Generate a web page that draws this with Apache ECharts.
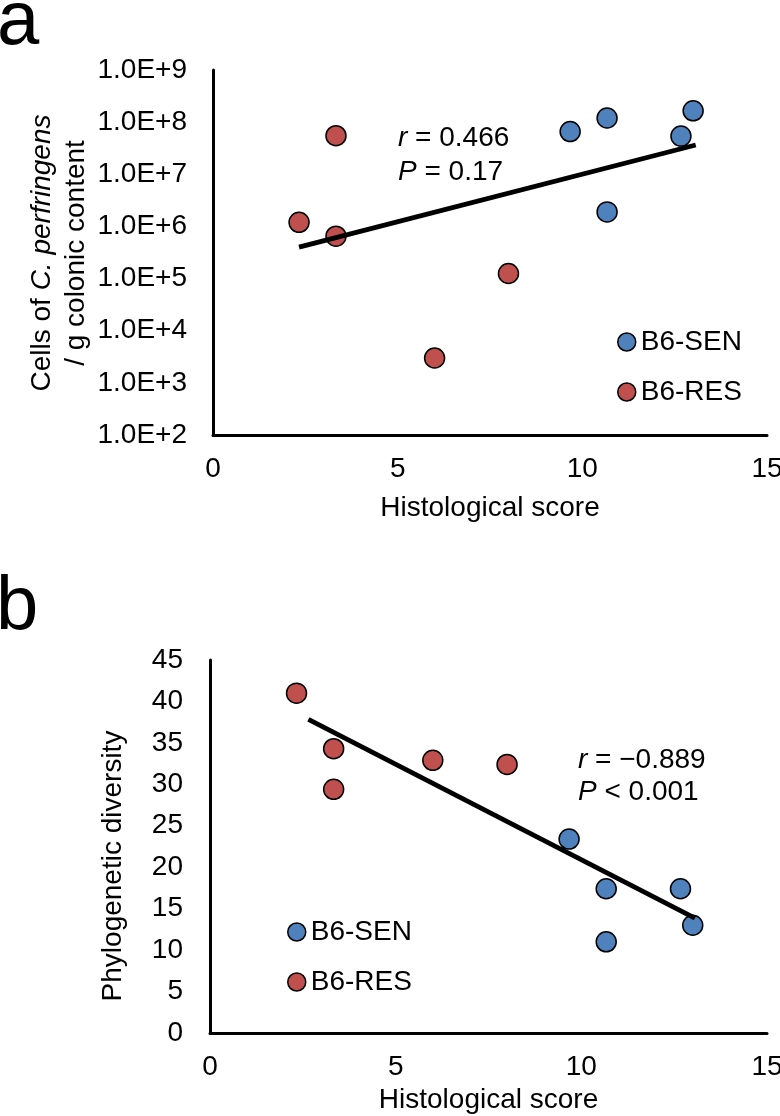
<!DOCTYPE html>
<html><head><meta charset="utf-8">
<script src="https://cdn.jsdelivr.net/npm/echarts@6/dist/echarts.min.js"></script>
<style>html,body{margin:0;padding:0;background:#fff}#c{width:780px;height:1116px}</style>
</head><body><div id="c"></div><script>
// ---- data ----
const seriesNames = ['B6-SEN', 'B6-RES'];
// Panel a: Cells of C. perfringens / g colonic content vs histological score
const senX_a = [9.67, 10.67, 10.67, 12.67, 13.0];
const senY_a = [6.6e7, 1.2e8, 1.9e6, 5.4e7, 1.65e8];
const resX_a = [2.33, 3.33, 3.33, 6.0, 8.0];
const resY_a = [1.2e6, 5.5e7, 6.5e5, 3.0e3, 1.25e5];
const trendX_a = [2.33, 13.07];
const trendY_a = [4.0e5, 3.65e7];
const stat_a = ['r = 0.466', 'P = 0.17'];
// Panel b: Phylogenetic diversity vs histological score
const senX_b = [9.67, 10.67, 10.67, 12.67, 13.0];
const senY_b = [23.4, 17.4, 11.0, 17.4, 13.0];
const resX_b = [2.33, 3.33, 3.33, 6.0, 8.0];
const resY_b = [41.0, 34.3, 29.4, 32.9, 32.4];
const trendX_b = [2.65, 13.06];
const trendY_b = [37.85, 13.85];
const stat_b = ['r = \u22120.889', 'P < 0.001'];
// axes
const xRange = [0, 15, 5];
const yRange_a = [1e2, 1e9];
const yRange_b = [0, 45, 5];
const xTitle = 'Histological score';
const yTitle_b = 'Phylogenetic diversity';

// ---- helpers ----
const FF = '"Liberation Sans", Arial, sans-serif';
const BLUE = '#4F81BD', RED = '#C0504D';
const zip = (xs, ys) => xs.map((x, i) => [x, ys[i]]);
const axisLine = { show: true, onZero: false, lineStyle: { color: '#000', width: 3 } };
const lbl = { color: '#000', fontSize: 28, fontFamily: FF };

function xAxis(gridIndex, gap) {
  return {
    gridIndex, type: 'value', min: xRange[0], max: xRange[1], interval: xRange[2],
    axisLine, axisTick: { show: false }, splitLine: { show: false },
    axisLabel: Object.assign({ margin: 20, showMinLabel: true, showMaxLabel: true, hideOverlap: false }, lbl),
    name: xTitle, nameLocation: 'middle', nameGap: gap,
    nameTextStyle: Object.assign({}, lbl)
  };
}
function scat(name, color, xi, data) {
  return {
    type: 'scatter', name, xAxisIndex: xi, yAxisIndex: xi, data,
    symbol: 'circle', symbolSize: 20, z: 2,
    itemStyle: { color, borderColor: '#000', borderWidth: 1.5, opacity: 1 }
  };
}
function trend(xi, data) {
  return {
    type: 'line', name: 'trend', xAxisIndex: xi, yAxisIndex: xi, data,
    showSymbol: false, symbol: 'none', z: 3, silent: true,
    lineStyle: { color: '#000', width: 4.8, cap: 'butt' }
  };
}
function statText(x, y, s) {
  const parts = s.split(' ');
  return {
    type: 'text', x, y,
    style: {
      text: '{i|' + parts[0] + '} ' + parts.slice(1).join(' '),
      font: '28px ' + FF, fill: '#000', align: 'left', verticalAlign: 'middle',
      rich: { i: { fontStyle: 'italic', fontSize: 28, fontFamily: FF, fill: '#000' } }
    }
  };
}
function legend(left, top) {
  return {
    data: seriesNames, orient: 'vertical', left, top, padding: 0,
    itemWidth: 18, itemHeight: 18, itemGap: 22, icon: 'circle',
    textStyle: Object.assign({}, lbl),
    itemStyle: { borderColor: '#000', borderWidth: 1.5 },
    selectedMode: false
  };
}

const chart = echarts.init(document.getElementById('c'), null, { renderer: 'canvas' });
chart.setOption({
  backgroundColor: '#fff',
  animation: false,
  grid: [
    { left: 213, top: 70, width: 554, height: 365, outerBoundsMode: 'none', containLabel: false },
    { left: 210, top: 660, width: 557, height: 373, outerBoundsMode: 'none', containLabel: false }
  ],
  xAxis: [xAxis(0, 59), xAxis(1, 53)],
  yAxis: [
    {
      gridIndex: 0, type: 'log', logBase: 10, min: yRange_a[0], max: yRange_a[1], interval: 1,
      axisLine, axisTick: { show: false }, splitLine: { show: false }, minorTick: { show: false },
      axisLabel: Object.assign({ margin: 26, showMinLabel: true, showMaxLabel: true,
        formatter: v => '1.0E+' + Math.round(Math.log10(v)) }, lbl)
    },
    {
      gridIndex: 1, type: 'value', min: yRange_b[0], max: yRange_b[1], interval: yRange_b[2],
      axisLine, axisTick: { show: false }, splitLine: { show: false },
      axisLabel: Object.assign({ margin: 27, showMinLabel: true, showMaxLabel: true }, lbl)
    }
  ],
  legend: [legend(617, 328), legend(287, 918)],
  series: [
    scat(seriesNames[0], BLUE, 0, zip(senX_a, senY_a)),
    scat(seriesNames[1], RED, 0, zip(resX_a, resY_a)),
    trend(0, zip(trendX_a, trendY_a)),
    scat(seriesNames[0], BLUE, 1, zip(senX_b, senY_b)),
    scat(seriesNames[1], RED, 1, zip(resX_b, resY_b)),
    trend(1, zip(trendX_b, trendY_b))
  ],
  graphic: [
    { type: 'text', x: -3, y: 23, style: { text: 'a', font: '76px ' + FF, fill: '#000', verticalAlign: 'middle' } },
    { type: 'text', x: -4, y: 608, style: { text: 'b', font: '76px ' + FF, fill: '#000', verticalAlign: 'middle' } },
    { type: 'text', x: 42, y: 253, rotation: Math.PI / 2,
      style: { text: 'Cells of {i|C. perfringens}', font: '28px ' + FF, fill: '#000', align: 'center', verticalAlign: 'middle',
        rich: { i: { fontStyle: 'italic', fontSize: 28, fontFamily: FF, fill: '#000' } } } },
    { type: 'text', x: 76, y: 253, rotation: Math.PI / 2,
      style: { text: '/ g colonic content', font: '28px ' + FF, fill: '#000', align: 'center', verticalAlign: 'middle' } },
    { type: 'text', x: 113, y: 866, rotation: Math.PI / 2,
      style: { text: yTitle_b, font: '28px ' + FF, fill: '#000', align: 'center', verticalAlign: 'middle' } },
    statText(398, 138, stat_a[0]),
    statText(398, 172, stat_a[1]),
    statText(578, 760, stat_b[0]),
    statText(578, 792, stat_b[1])
  ]
});
</script></body></html>
